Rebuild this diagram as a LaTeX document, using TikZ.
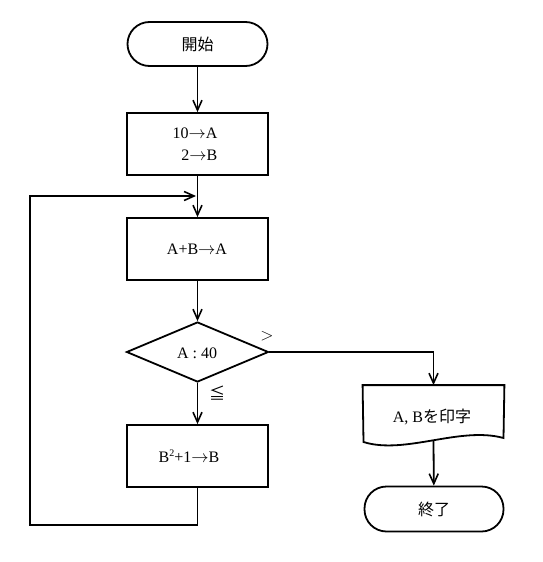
\documentclass[tikz,border=0pt]{standalone}
\usepackage{fontspec}
\setmainfont{Liberation Serif}
\newfontfamily\jp{Noto Sans CJK JP}
\usetikzlibrary{shapes.geometric,arrows.meta}
\newcommand{\ar}{\ensuremath{\rightarrow}}
\begin{document}
\begin{tikzpicture}[x=1pt,y=-1pt,line width=1.8pt,
  font=\fontsize{16}{22}\selectfont,
  term/.style={draw,rounded corners=22pt,minimum width=140pt,minimum height=44pt,inner sep=0pt},
  proc/.style={draw,minimum width=141pt,minimum height=62pt,inner sep=0pt},
  flow/.style={-{Straight Barb[length=10pt,width=9pt,line width=1.6pt]}},
  lbl/.style={inner sep=0pt}]
\useasboundingbox (0,0) rectangle (542,562);
% nodes
\node[term] (start) at (197.5,44) {\jp 開始};
\node[proc] (init) at (197.5,144) {};
\node[lbl,align=right] (inittext) at (195,144) {10\ar A\\2\ar B};
\node[proc] (add) at (197.5,249) {};
\node[lbl] (addtext) at (197,249) {A+B\ar A};
\node[draw,diamond,minimum width=142pt,minimum height=60pt,inner sep=0pt] (cond) at (197.5,352) {};
\node[lbl] (condtext) at (197,353) {A : 40};
\node[proc] (sq) at (197.5,456) {};
\node[lbl] (sqtext) at (189,456) {B\raisebox{6pt}{\fontsize{10}{10}\selectfont 2}+1\ar B};
\node[minimum width=140pt,minimum height=56pt,inner sep=0pt] (doc) at (433.5,414) {};
\node[lbl] (doctext) at (432,417) {A, B{\jp を印字}};
\node[term,minimum width=139pt,minimum height=45pt] (end) at (434,509) {\jp 終了};
\node[lbl] (gt) at (267,336) {\fontsize{18}{18}\selectfont$>$};
\node[lbl] (le) at (217,393) {\jp ≦};
% document shape
\coordinate (dbot) at (433.5,441);
\draw (doc.north west) -- (doc.north east) -- (503.5,438)
  .. controls (460,426) and (405,455) .. (363.5,442) -- cycle;
% connectors
\coordinate (join) at (197.5,196);
\coordinate (loopl) at (30,525);
\coordinate (joinend) at (196,196);
\draw[flow] (start) -- (init);
\draw[flow] (init) -- (add);
\draw[flow] (add) -- (cond);
\draw[flow] (cond) -- (sq);
\draw[flow] (sq.south) |- (loopl) |- (joinend);
\draw[flow] (cond.east) -| (doc.north);
\draw[flow] (dbot) -- (end);
\end{tikzpicture}
\end{document}
